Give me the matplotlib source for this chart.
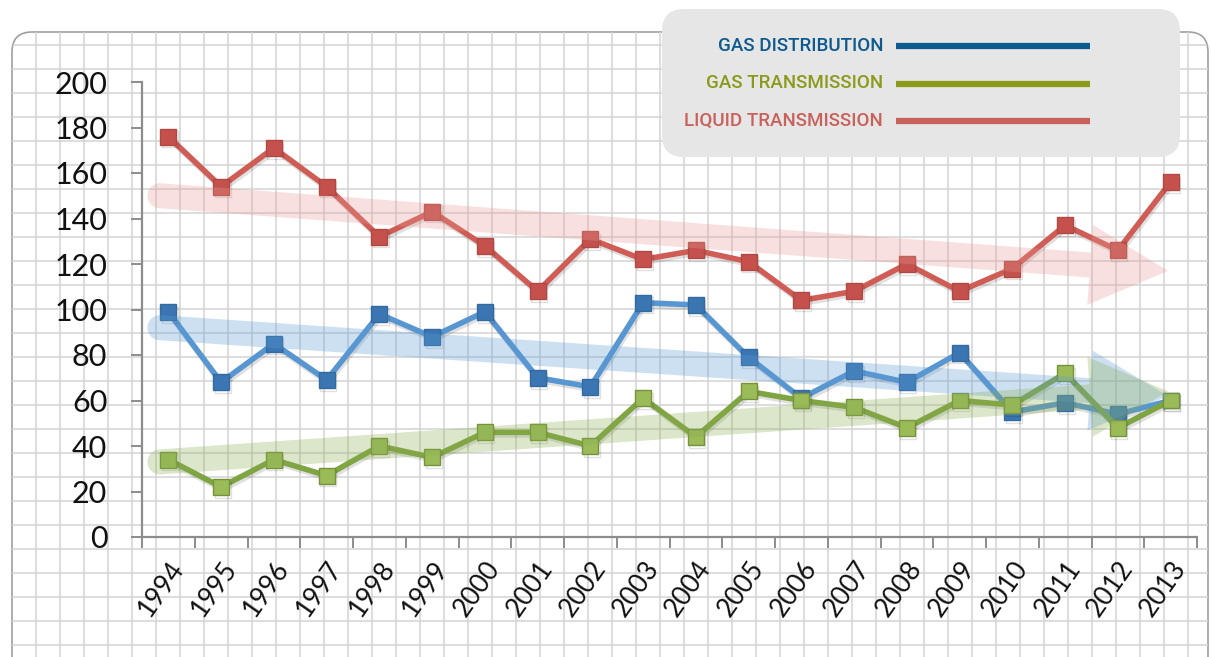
import numpy as np
import matplotlib
matplotlib.use("Agg")
import matplotlib.pyplot as plt
import matplotlib.patheffects as pe
from matplotlib.patches import FancyBboxPatch, Polygon
from matplotlib.transforms import IdentityTransform

years = [str(y) for y in range(1994, 2014)]
gas_distribution = [99, 68, 85, 69, 98, 88, 99, 70, 66, 103, 102, 79, 61, 73, 68, 81, 55, 59, 54, 60]
gas_transmission = [34, 22, 34, 27, 40, 35, 46, 46, 40, 61, 44, 64, 60, 57, 48, 60, 58, 72, 48, 60]
liquid_transmission = [176, 154, 171, 154, 132, 143, 128, 108, 131, 122, 126, 121, 104, 108, 120, 108, 118, 137, 126, 156]

# trend arrows: (start value, end value) over the year range
trend_distribution = [92, 62]
trend_transmission = [33, 64]
trend_liquid = [150, 117]

legend_labels = ["GAS DISTRIBUTION", "GAS TRANSMISSION", "LIQUID TRANSMISSION"]
legend_colors = ["#0d5a8e", "#8c9a1c", "#c9615b"]

W, H = 1211, 657
fig = plt.figure(figsize=(W / 100, H / 100), dpi=100)

# graph paper background
bg = fig.add_axes([0, 0, 1, 1], zorder=0)
bg.set_xlim(0, W); bg.set_ylim(H, 0); bg.axis("off")
frame = FancyBboxPatch((12, 32), 1196, 700, boxstyle="round,pad=0,rounding_size=20",
                       facecolor="white", edgecolor="#a0a0a0", lw=1.2)
bg.add_patch(frame)
for gx in range(36, W, 24):
    ln, = bg.plot([gx, gx], [32, H], color="#d3d3d3", lw=1.1)
    ln.set_clip_path(frame)
for gy in range(45, H, 24):
    ln, = bg.plot([12, W], [gy, gy], color="#d3d3d3", lw=1.1)
    ln.set_clip_path(frame)

ax = fig.add_axes([142 / W, 1 - 537 / H, 1055 / W, 455 / H], zorder=1)
ax.set_facecolor("none")
x = np.arange(len(years))
ax.set_xlim(-0.5, len(years) - 0.5)
ax.set_ylim(0, 200)

shadow = [pe.SimpleLineShadow(offset=(1, -2), alpha=0.12, shadow_color="k"), pe.Normal()]
ax.plot(x, liquid_transmission, color="#cf5c55", lw=4, marker="s", ms=11.5,
        mfc="#c4514c", mec="#b04843", mew=1, path_effects=shadow, clip_on=False)
ax.plot(x, gas_distribution, color="#5796d0", lw=4, marker="s", ms=11.5,
        mfc="#3b76b2", mec="#336aa0", mew=1, path_effects=shadow, clip_on=False)
ax.plot(x, gas_transmission, color="#7fa442", lw=4, marker="s", ms=11.5,
        mfc="#9bbb59", mec="#76933c", mew=1, path_effects=shadow, clip_on=False)

for sp in ["top", "right"]:
    ax.spines[sp].set_visible(False)
for sp in ["left", "bottom"]:
    ax.spines[sp].set_color("#8c8c8c")
    ax.spines[sp].set_linewidth(1.6)

ax.set_yticks(range(0, 201, 20))
ax.tick_params(axis="y", length=8, width=1.4, color="#8c8c8c", pad=17,
               labelsize=22, labelcolor="#111111")
ax.set_xticks(x)
ax.set_xticklabels(years, rotation=55, ha="right", va="top", rotation_mode="anchor",
                   fontsize=19, color="#111111")
ax.tick_params(axis="x", which="major", length=0, pad=14)
ax.set_xticks(np.arange(-0.5, len(years), 1), minor=True)
ax.tick_params(axis="x", which="minor", length=8, width=1.4, color="#8c8c8c")
for lab in ax.get_yticklabels() + ax.get_xticklabels():
    lab.set_family("Lato")


def trend_arrow(vals, color):
    p0 = ax.transData.transform((-0.16, vals[0]))
    p1 = ax.transData.transform((x[-1] - 0.05, vals[1]))
    d = (p1 - p0) / np.hypot(*(p1 - p0))
    n = np.array([-d[1], d[0]])
    hs, hh, hl = 12.5, 40, 78
    b = p1 - d * hl
    t = np.linspace(np.pi / 2, 3 * np.pi / 2, 20)
    cap = [p0 + hs * (np.cos(a) * d + np.sin(a) * n) for a in t]
    pts = cap + [b - n * hs, b - n * hh, p1, b + n * hh, b + n * hs]
    ax.add_patch(Polygon(np.array(pts), closed=True, transform=IdentityTransform(),
                         facecolor=color, edgecolor="none", alpha=0.3, zorder=3))


fig.canvas.draw()
trend_arrow(trend_liquid, "#e79a95")
trend_arrow(trend_distribution, "#5b9bd5")
trend_arrow(trend_transmission, "#8aad50")

# legend box
lg = fig.add_axes([0, 0, 1, 1], zorder=2)
lg.set_xlim(0, W); lg.set_ylim(H, 0); lg.axis("off")
lg.add_patch(FancyBboxPatch((662, 9), 518, 148, boxstyle="round,pad=0,rounding_size=22",
                            facecolor="#e6e6e6", edgecolor="none"))
for i, (lab, col) in enumerate(zip(legend_labels, legend_colors)):
    yy = 46 + i * 37.5
    lg.text(883, yy, lab, ha="right", va="center", color=col, fontsize=13.5,
            family="Roboto", fontweight="medium")
    lg.plot([896, 1090], [yy, yy], color=col, lw=4.5, solid_capstyle="butt")

fig.savefig("out.png", dpi=100)
